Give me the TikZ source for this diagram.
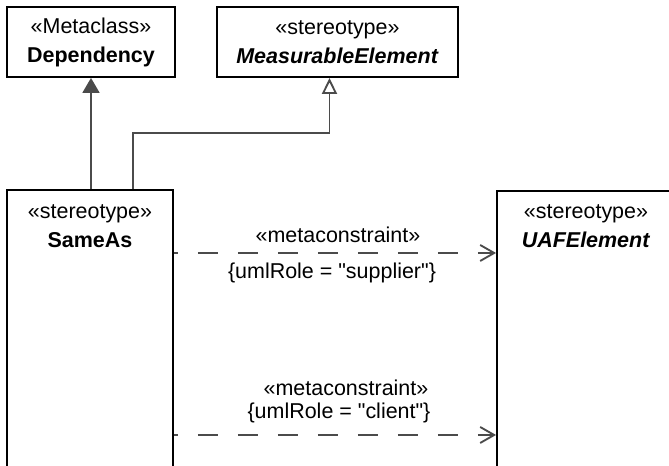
\documentclass[tikz,border=0pt]{standalone}
\usepackage{fontspec}
\setmainfont{Liberation Sans}[Ligatures=TeXOff]
\usetikzlibrary{arrows.meta,positioning}

\definecolor{linegray}{RGB}{75,75,75}
\tikzset{every picture/.style={line width=1.4pt}}
\tikzset{
  classbox/.style={draw=black, line width=1.4pt, rectangle, inner sep=0pt, align=center,
    font=\fontsize{16.1}{21.75}\selectfont},
  boxtext/.style={inner sep=0pt, align=center, font=\fontsize{16.1}{21.75}\selectfont},
  lbltext/.style={inner sep=0pt, font=\fontsize{16.1}{19}\selectfont},
  generalize/.style={draw=linegray, -{Triangle[length=11.25pt, width=12.75pt, fill=linegray]}},
  realize/.style={draw=linegray, -{Triangle[open, length=12pt, width=11.25pt, fill=white]}},
  constraint/.style={draw=linegray, dash pattern=on 15pt off 15pt, dash phase=12pt,
    -{Straight Barb[length=10.5pt, width=12pt, line cap=butt]}}
}

\begin{document}
\begin{tikzpicture}[x=0.75pt,y=0.75pt,yscale=-1,xscale=1]
\useasboundingbox (0,0) rectangle (669,466);
\clip (0,0) rectangle (669,466);

%Shape: Rectangle
\node[classbox, minimum width=126pt, minimum height=52.5pt] (dependency) at (91,42)
  {«Metaclass»\\\textbf{Dependency}};
%Shape: Rectangle
\node[classbox, minimum width=180.75pt, minimum height=52.5pt] (measurable) at (337.5,42)
  {«stereotype»\\\textbf{\textit{MeasurableElement}}};
%Shape: Rectangle
\node[classbox, minimum width=124.5pt, minimum height=277.5pt] (sameas) at (90,375) {};
%Shape: Rectangle
\node[classbox, minimum width=152.25pt, minimum height=276.75pt] (uaf) at (598.5,375.5) {};

% Text Node
\node[boxtext] (sameaslbl) at (90,226) {«stereotype»\\\textbf{SameAs}};
% Text Node
\node[boxtext] (uaflbl) at (586,226) {«stereotype»\\\textbf{\textit{UAFElement}}};

%Straight Lines
\draw[generalize] (sameas.north -| dependency.south) -- (dependency.south);
%Straight Lines
\coordinate (bend) at (133,133);
\draw[realize] (sameas.north -| bend) -- (bend) -| ([xshift=-6pt]measurable.south);

%Straight Lines
\coordinate (supplier) at (0,253);
\draw[constraint] (sameas.east |- supplier) -- (uaf.west |- supplier);
%Straight Lines
\coordinate (client) at (0,435);
\draw[constraint] (sameas.east |- client) -- (uaf.west |- client);

% Text Node
\node[lbltext] (supplierst) at (338,235) {«metaconstraint»};
% Text Node
\node[lbltext] (supplierrole) at (332,273) {\{umlRole = "supplier"\}};
% Text Node
\node[lbltext] (clientst) at (346,388) {«metaconstraint»};
% Text Node
\node[lbltext] (clientrole) at (339,413) {\{umlRole = "client"\}};

\end{tikzpicture}
\end{document}
